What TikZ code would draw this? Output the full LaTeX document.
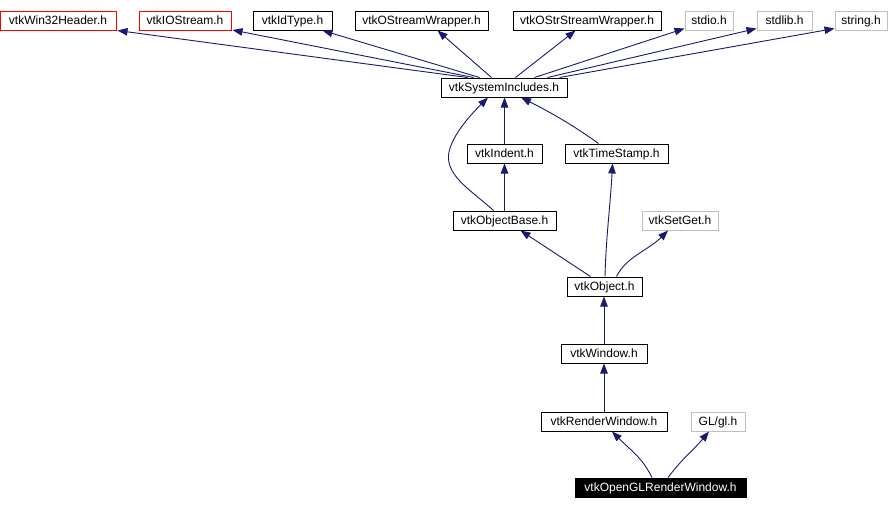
\documentclass[tikz,border=0pt]{standalone}
\usepackage{fontspec}
\setmainfont{Liberation Sans}
\usetikzlibrary{arrows.meta}
\definecolor{edgec}{RGB}{25,25,112}
\definecolor{greyc}{RGB}{191,191,191}
\begin{document}
\begin{tikzpicture}[x=1pt,y=-1pt,
  hbox/.style={draw=black,line width=1pt,inner sep=0pt,minimum height=19pt,text height=9pt,text depth=0.5pt,font=\fontsize{12}{12}\selectfont,anchor=center},
  redbox/.style={hbox,draw=red},
  greybox/.style={hbox,draw=greyc},
  curbox/.style={hbox,fill=black,text=white},
  dep/.style={draw=edgec,line width=0.9pt,-{Triangle[length=10pt,width=7.5pt]},color=edgec}]
\useasboundingbox (0,0) rectangle (890,509);
% top row
\node[redbox,minimum width=116pt] (win32) at (58,20.5) {vtkWin32Header.h};
\node[redbox,minimum width=92pt] (ios) at (185,20.5) {vtkIOStream.h};
\node[hbox,minimum width=79pt] (idt) at (292.5,20.5) {vtkIdType.h};
\node[hbox,minimum width=133pt] (osw) at (421.5,20.5) {vtkOStreamWrapper.h};
\node[hbox,minimum width=148pt] (ossw) at (587,20.5) {vtkOStrStreamWrapper.h};
\node[greybox,minimum width=48pt] (stdio) at (709,20.5) {stdio.h};
\node[greybox,minimum width=55pt] (stdlib) at (784.5,20.5) {stdlib.h};
\node[greybox,minimum width=52pt] (string) at (861,20.5) {string.h};
% middle
\node[hbox,minimum width=126pt] (sys) at (504,87.5) {vtkSystemIncludes.h};
\node[hbox,minimum width=75pt] (ind) at (504.5,153.5) {vtkIndent.h};
\node[hbox,minimum width=103pt] (ts) at (616.5,153.5) {vtkTimeStamp.h};
\node[hbox,minimum width=103pt] (ob) at (504.5,220.5) {vtkObjectBase.h};
\node[greybox,minimum width=76pt] (sg) at (680,220.5) {vtkSetGet.h};
\node[hbox,minimum width=75pt] (obj) at (604.5,286.5) {vtkObject.h};
\node[hbox,minimum width=86pt] (wnd) at (604,353.5) {vtkWindow.h};
\node[hbox,minimum width=126pt] (rw) at (604,421.5) {vtkRenderWindow.h};
\node[greybox,minimum width=54pt] (gl) at (718,421.5) {GL/gl.h};
\node[curbox,minimum width=171pt] (ogl) at (660.5,487.5) {vtkOpenGLRenderWindow.h};
% edges top
\draw[dep] ([xshift=27pt]sys.north west) -- ([xshift=1pt]win32.south east);
\draw[dep] ([xshift=33pt]sys.north west) -- ([xshift=1pt,yshift=0.5pt]ios.south east);
\draw[dep] ([xshift=39pt]sys.north west) -- ([xshift=-10pt]idt.south east);
\draw[dep] ([xshift=51pt]sys.north west) -- ([xshift=-51pt]osw.south east);
\draw[dep] ([xshift=75pt]sys.north west) -- ([xshift=-86pt]ossw.south east);
\draw[dep] ([xshift=94pt]sys.north west) -- ([yshift=2pt]stdio.south west);
\draw[dep] ([xshift=107pt]sys.north west) -- ([yshift=2pt]stdlib.south west);
\draw[dep] ([xshift=119pt]sys.north west) -- ([yshift=2pt]string.south west);
% middle edges
\draw[dep] (ind.north) -- (ind.north |- sys.south);
\draw[dep] ([xshift=-11pt]ob.north) .. controls +(-22,-20) and +(-2,22) .. ([xshift=-56pt,yshift=56pt]ob.north) .. controls +(3,-20) and +(-15,15) .. ([xshift=-16pt]sys.south);
\draw[dep] ([xshift=-18pt]ts.north) .. controls +(-25,-18) and +(30,15) .. ([xshift=17pt]sys.south);
\draw[dep] (ob.north) -- (ob.north |- ind.south);
\draw[dep] ([xshift=-14pt]obj.north) -- ([xshift=16pt]ob.south);
\draw[dep] ([xshift=0.5pt]obj.north) .. controls +(1,-40) and +(-2,40) .. ([xshift=-4pt]ts.south);
\draw[dep] ([xshift=12pt]obj.north) .. controls +(10,-20) and +(-20,20) .. ([xshift=-12pt]sg.south);
\draw[dep] (wnd.north) -- (wnd.north |- obj.south);
\draw[dep] (rw.north) -- (rw.north |- wnd.south);
\draw[dep] ([xshift=-8.5pt]ogl.north) .. controls +(-10,-20) and +(20,20) .. ([xshift=8pt]rw.south);
\draw[dep] ([xshift=7.5pt]ogl.north) .. controls +(15,-20) and +(-15,18) .. ([xshift=-9pt]gl.south);
\end{tikzpicture}
\end{document}
